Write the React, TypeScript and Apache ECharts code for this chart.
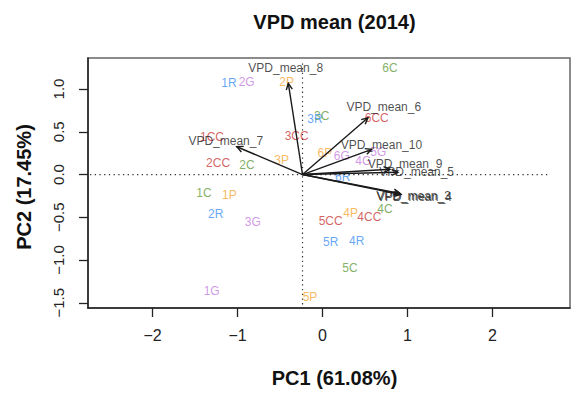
import React, { useEffect, useRef } from "react";
import * as echarts from "echarts";

const FONT = '"Liberation Sans", Arial, Helvetica, sans-serif';

// Sample scores (PC1, PC2)
const sampleNames = [
  "1C", "2C", "3C", "4C", "5C", "6C",
  "1CC", "2CC", "3CC", "4CC", "5CC", "6CC",
  "1G", "2G", "3G", "4G", "5G", "6G",
  "1P", "2P", "3P", "4P", "5P", "6P",
  "1R", "2R", "3R", "4R", "5R", "6R",
];
const sampleGroups = [
  "C", "C", "C", "C", "C", "C",
  "CC", "CC", "CC", "CC", "CC", "CC",
  "G", "G", "G", "G", "G", "G",
  "P", "P", "P", "P", "P", "P",
  "R", "R", "R", "R", "R", "R",
];
const pc1 = [
  -1.394, -0.888, -0.009, 0.735, 0.324, 0.794,
  -1.3, -1.229, -0.304, 0.551, 0.096, 0.638,
  -1.304, -0.892, -0.821, 0.48, 0.656, 0.226,
  -1.096, -0.421, -0.48, 0.332, -0.147, 0.029,
  -1.1, -1.256, -0.088, 0.402, 0.096, 0.238,
];
const pc2 = [
  -0.22, 0.111, 0.688, -0.407, -1.097, 1.249,
  0.442, 0.135, 0.454, -0.494, -0.54, 0.657,
  -1.359, 1.085, -0.559, 0.158, 0.26, 0.22,
  -0.24, 1.078, 0.17, -0.454, -1.436, 0.248,
  1.074, -0.465, 0.649, -0.774, -0.786, -0.026,
];

// Loadings (arrows)
const loadingNames = [
  "VPD_mean_3", "VPD_mean_4", "VPD_mean_5", "VPD_mean_6",
  "VPD_mean_7", "VPD_mean_8", "VPD_mean_9", "VPD_mean_10",
];
const arrowOrigin = [-0.235, 0];
const loadingTipX = [0.912, 0.924, 0.888, 0.535, -1.009, -0.402, 0.794, 0.579];
const loadingTipY = [-0.22, -0.234, 0.026, 0.664, 0.325, 1.067, 0.061, 0.295];
const loadingLabelX = [1.071, 1.082, 1.108, 0.721, -1.138, -0.433, 0.971, 0.693];
const loadingLabelY = [-0.246, -0.257, 0.032, 0.793, 0.392, 1.242, 0.119, 0.345];

// Reference lines
const hLineX = [-2.735, 2.676];
const vLineY = [1.3, -1.52];

const xTicks = [-2, -1, 0, 1, 2];
const yTicks = [-1.5, -1, -0.5, 0, 0.5, 1];

const groupColors: Record<string, string> = {
  C: "#629b3c",
  CC: "#c93b3b",
  G: "#c57de0",
  P: "#f7a634",
  R: "#4090f5",
};

const minus = (s: string) => s.replace("-", "\u2212");

export default function App() {
  const ref = useRef<HTMLDivElement>(null);
  useEffect(() => {
    const chart = echarts.init(ref.current!, null, { renderer: "svg" });
    const groups = ["C", "CC", "G", "P", "R"];
    const scatterSeries = groups.map((g) => ({
      type: "scatter",
      name: g,
      symbolSize: 1,
      itemStyle: { color: "transparent" },
      silent: true,
      z: 3,
      data: sampleNames
        .map((n, i) => ({ name: n, value: [pc1[i], pc2[i]], g: sampleGroups[i] }))
        .filter((d) => d.g === g)
        .map((d) => ({ name: d.name, value: d.value })),
      label: {
        show: true,
        position: "inside",
        formatter: "{b}",
        color: groupColors[g],
        fontSize: 12,
        fontFamily: FONT,
      },
    }));

    const option: any = {
      animation: false,
      backgroundColor: "#ffffff",
      grid: {
        left: 88,
        right: 1,
        top: 58,
        bottom: 85,
        show: true,
        borderColor: "#666",
        borderWidth: 1.5,
      },
      xAxis: {
        type: "value",
        min: -2.759,
        max: 2.912,
        axisLine: { show: true, onZero: false, lineStyle: { color: "#222", width: 1.5 } },
        axisTick: { show: true, length: 9, customValues: xTicks, lineStyle: { color: "#222", width: 1.3 } },
        axisLabel: {
          customValues: xTicks,
          formatter: (v: number) => minus(String(v)),
          fontSize: 16,
          color: "#222",
          fontFamily: FONT,
          margin: 19,
        },
        splitLine: { show: false },
      },
      yAxis: {
        type: "value",
        min: -1.561,
        max: 1.363,
        axisLine: { show: true, onZero: false, lineStyle: { color: "#222", width: 1.5 } },
        axisTick: { show: true, length: 9, customValues: yTicks, lineStyle: { color: "#222", width: 1.3 } },
        axisLabel: {
          customValues: yTicks,
          rotate: 90,
          formatter: (v: number) => minus(v.toFixed(1)),
          fontSize: 15,
          color: "#222",
          fontFamily: FONT,
          margin: 22,
        },
        splitLine: { show: false },
      },
      graphic: [
        {
          type: "text",
          x: 334.5,
          y: 22,
          style: {
            text: "VPD mean (2014)",
            fontSize: 20,
            fontWeight: "bold",
            fontFamily: FONT,
            fill: "#111",
            align: "center",
            verticalAlign: "middle",
          },
        },
        {
          type: "text",
          x: 334.5,
          y: 378,
          style: {
            text: "PC1 (61.08%)",
            fontSize: 20,
            fontWeight: "bold",
            fontFamily: FONT,
            fill: "#111",
            align: "center",
            verticalAlign: "middle",
          },
        },
        {
          type: "text",
          x: 24,
          y: 187,
          rotation: Math.PI / 2,
          style: {
            text: "PC2 (17.45%)",
            fontSize: 20,
            fontWeight: "bold",
            fontFamily: FONT,
            fill: "#111",
            align: "center",
            verticalAlign: "middle",
          },
        },
      ],
      series: [
        {
          type: "line",
          data: [
            [hLineX[0], 0],
            [hLineX[1], 0],
          ],
          symbol: "none",
          silent: true,
          z: 1,
          lineStyle: { color: "#333", width: 1.2, type: [1.3, 3.4] },
        },
        {
          type: "line",
          data: [
            [arrowOrigin[0], vLineY[0]],
            [arrowOrigin[0], vLineY[1]],
          ],
          symbol: "none",
          silent: true,
          z: 1,
          lineStyle: { color: "#333", width: 1.2, type: [1.3, 3.4] },
        },
        ...scatterSeries,
        {
          type: "custom",
          silent: true,
          z: 4,
          encode: { x: [0, 2], y: [1, 3] },
          data: loadingNames.map((n, i) => [arrowOrigin[0], arrowOrigin[1], loadingTipX[i], loadingTipY[i]]),
          renderItem: (params: any, api: any) => {
            const p0 = api.coord([api.value(0), api.value(1)]);
            const p1 = api.coord([api.value(2), api.value(3)]);
            const ang = Math.atan2(p1[1] - p0[1], p1[0] - p0[0]);
            const L = 7;
            const a = Math.PI / 7;
            const h1 = [p1[0] - L * Math.cos(ang - a), p1[1] - L * Math.sin(ang - a)];
            const h2 = [p1[0] - L * Math.cos(ang + a), p1[1] - L * Math.sin(ang + a)];
            return {
              type: "group",
              children: [
                {
                  type: "line",
                  shape: { x1: p0[0], y1: p0[1], x2: p1[0], y2: p1[1] },
                  style: { stroke: "#1a1a1a", lineWidth: 1.4 },
                },
                {
                  type: "polyline",
                  shape: { points: [h1, p1, h2] },
                  style: { stroke: "#1a1a1a", lineWidth: 1.4, fill: null },
                },
              ],
            };
          },
        },
        {
          type: "scatter",
          symbolSize: 1,
          itemStyle: { color: "transparent" },
          silent: true,
          z: 5,
          data: loadingNames.map((n, i) => ({ name: n, value: [loadingLabelX[i], loadingLabelY[i]] })),
          label: {
            show: true,
            position: "inside",
            formatter: "{b}",
            color: "#1e1e1e",
            fontSize: 12,
            fontFamily: FONT,
          },
        },
      ],
    };
    chart.setOption(option);
    return () => chart.dispose();
  }, []);
  return (
    <div
      ref={ref}
      style={{ position: "fixed", left: 0, top: 0, width: 571, height: 393, background: "#fff" }}
    />
  );
}
